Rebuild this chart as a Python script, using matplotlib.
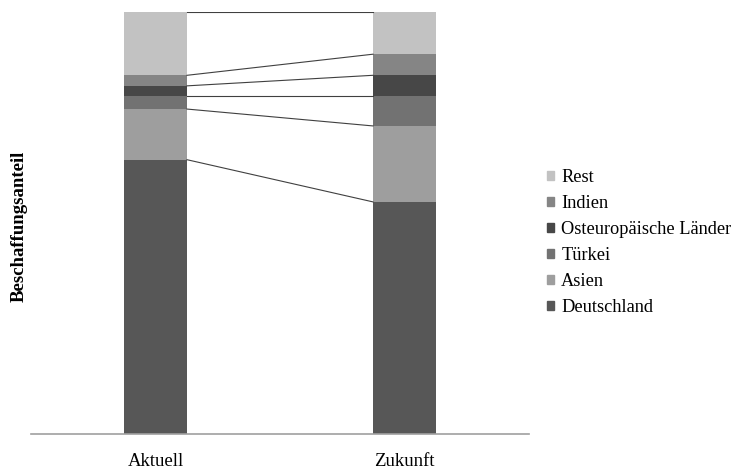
import matplotlib
matplotlib.use('Agg')
import matplotlib.pyplot as plt
from matplotlib.patches import Patch
import numpy as np

plt.rcParams['font.family'] = ['Liberation Serif', 'DejaVu Serif']

categories = ['Aktuell', 'Zukunft']
series = ['Deutschland', 'Asien', 'Türkei', 'Osteuropäische Länder', 'Indien', 'Rest']
deutschland = [65, 55]
asien = [12, 18]
tuerkei = [3, 7]
osteuropa = [2.5, 5]
indien = [2.5, 5]
rest = [15, 10]
colors = ['#575757', '#9e9e9e', '#727272', '#474747', '#858585', '#c2c2c2']

values = np.array([deutschland, asien, tuerkei, osteuropa, indien, rest])

fig = plt.figure(figsize=(7.31, 4.70), dpi=100)
ax = fig.add_axes([31 / 731, 36 / 470, 498 / 731, 422 / 470])

x = np.arange(len(categories))
width = 0.253
bottom = np.zeros(len(categories))
for vals, color, name in zip(values, colors, series):
    ax.bar(x, vals, width, bottom=bottom, color=color, label=name, linewidth=0)
    top = bottom + vals
    # series line joining segment tops between the two columns
    ax.plot([x[0] + width / 2, x[1] - width / 2], [top[0], top[1]],
            color='#404040', linewidth=0.8)
    bottom = top

ax.set_xlim(-0.5, 1.5)
ax.set_ylim(0, 100)
ax.set_xticks(x)
ax.set_xticklabels(categories, fontsize=13.5)
ax.tick_params(axis='x', length=0, pad=14)
ax.set_yticks([])
for side in ['top', 'right', 'left']:
    ax.spines[side].set_visible(False)
ax.spines['bottom'].set_color('#a0a0a0')
ax.spines['bottom'].set_linewidth(1.2)

fig.text(19 / 731, 1 - 226 / 470, 'Beschaffungsanteil', rotation=90,
         ha='center', va='center', fontsize=13.5, fontweight='bold')

handles = [Patch(color=c, label=n) for c, n in zip(colors, series)][::-1]
fig.legend(handles=handles, loc='upper left', bbox_to_anchor=(540 / 731, 1 - 162 / 470),
           frameon=False, fontsize=13.2, handlelength=0.38, handleheight=0.38,
           handletextpad=0.38, labelspacing=0.49, borderaxespad=0)

plt.savefig('out.png', dpi=100)
